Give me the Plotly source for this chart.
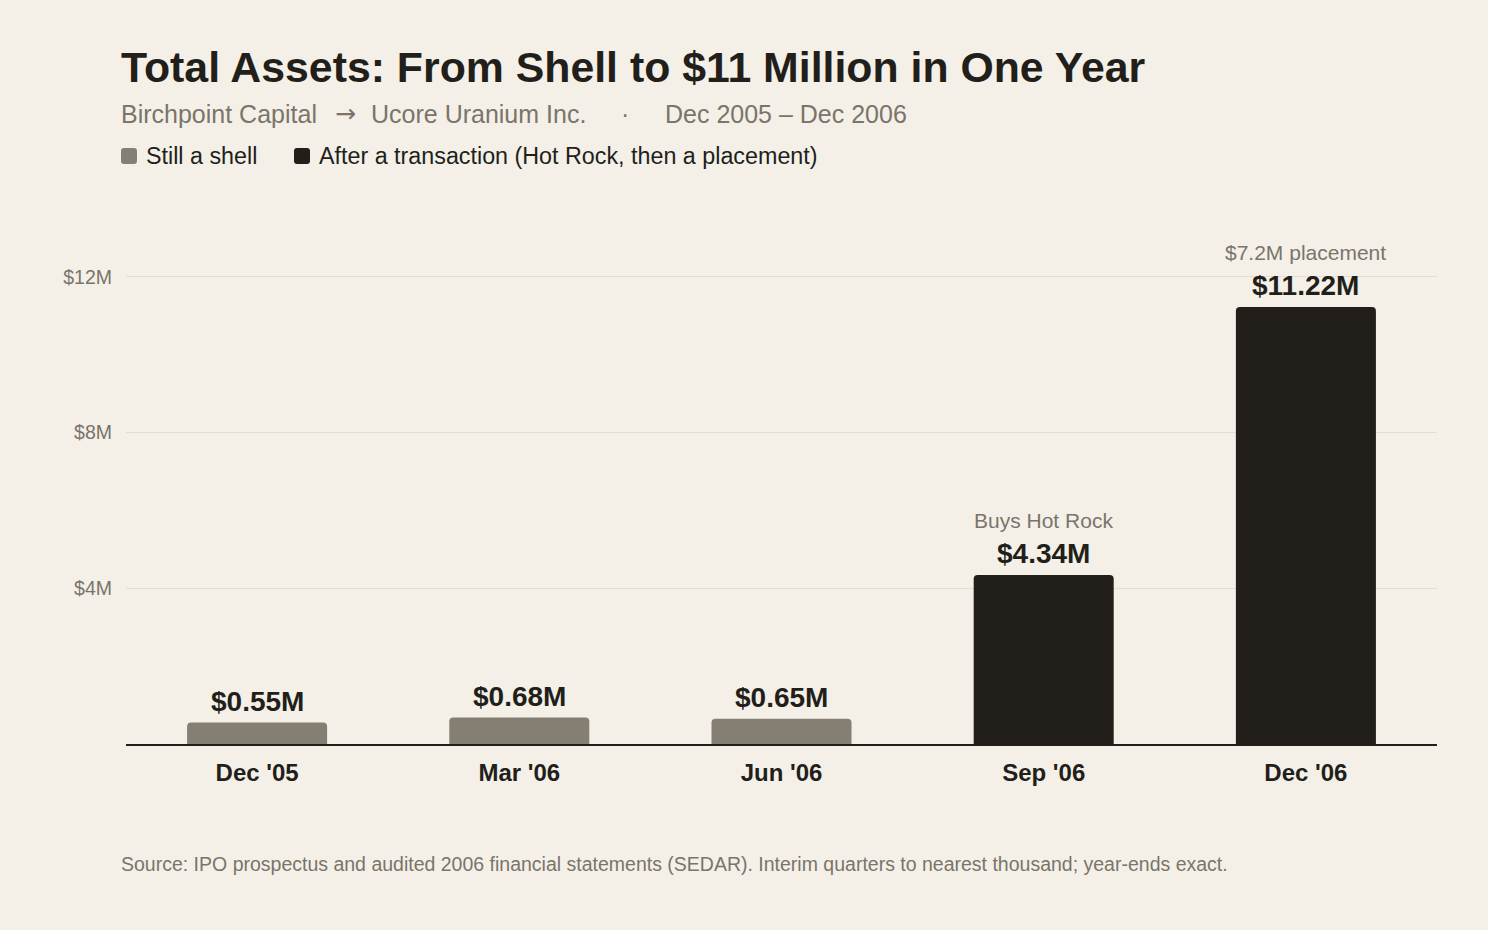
import plotly.graph_objects as go

# ---- data ----
quarters = ["Dec '05", "Mar '06", "Jun '06", "Sep '06", "Dec '06"]
total_assets_m = [0.55, 0.68, 0.65, 4.34, 11.22]
status = ["shell", "shell", "shell", "transaction", "transaction"]
value_labels = ["$0.55M", "$0.68M", "$0.65M", "$4.34M", "$11.22M"]
notes = ["", "", "", "Buys Hot Rock", "$7.2M placement"]
y_tickvals = [4, 8, 12]
y_ticktext = ["$4M", "$8M", "$12M"]

# ---- style ----
BG = "#f4f0e8"
DARK = "#221f1b"
SHELL = "#857f73"
GRAY_TXT = "#7a746a"
GRID = "#e4ded2"
FONT = "Liberation Sans, Arial, Helvetica, sans-serif"

W, H = 1488, 930
ML, MR, MT, MB = 126, 51, 230, 186
PW, PH = W - ML - MR, H - MT - MB


def px_x(px):
    return (px - ML) / PW


def px_y(py):
    return (H - MB - py) / PH


fig = go.Figure()
for key, color, name in [("shell", SHELL, "Still a shell"),
                         ("transaction", DARK, "After a transaction")]:
    xs = [q for q, s in zip(quarters, status) if s == key]
    ys = [v for v, s in zip(total_assets_m, status) if s == key]
    fig.add_trace(go.Bar(x=xs, y=ys, name=name, marker=dict(color=color, cornerradius=4,
                                                             line=dict(width=0)),
                         showlegend=False, hoverinfo="skip"))

annotations = []
for q, v, lab, note in zip(quarters, total_assets_m, value_labels, notes):
    annotations.append(dict(x=q, y=v, xref="x", yref="y", text=f"<b>{lab}</b>",
                            showarrow=False, yanchor="bottom", yshift=4,
                            font=dict(size=28, color=DARK, family=FONT)))
    if note:
        annotations.append(dict(x=q, y=v, xref="x", yref="y", text=note,
                                showarrow=False, yanchor="bottom", yshift=41,
                                font=dict(size=21, color=GRAY_TXT, family=FONT)))

# title
annotations.append(dict(x=px_x(119), y=px_y(67), xref="paper", yref="paper",
                        text="<b>Total Assets: From Shell to $11 Million in One Year</b>",
                        showarrow=False, xanchor="left", yanchor="middle",
                        font=dict(size=42.8, color=DARK, family=FONT)))
# subtitle pieces
sub_pieces = [(119, "left", "Birchpoint Capital", FONT), (345, "center", "→", "DejaVu Sans"),
              (369, "left", "Ucore Uranium Inc.", FONT), (625, "center", "·", FONT),
              (663, "left", "Dec 2005 – Dec 2006", FONT)]
for px, anc, t, fam in sub_pieces:
    annotations.append(dict(x=px_x(px), y=px_y(114), xref="paper", yref="paper", text=t,
                            showarrow=False, xanchor=anc, yanchor="middle",
                            font=dict(size=25, color=GRAY_TXT, family=fam)))


# legend
def rounded_rect_path(x0, y0, x1, y1, r):
    def P(x, y):
        return f"{px_x(x):.6f},{px_y(y):.6f}"
    return (f"M{P(x0 + r, y0)} L{P(x1 - r, y0)} Q{P(x1, y0)} {P(x1, y0 + r)} "
            f"L{P(x1, y1 - r)} Q{P(x1, y1)} {P(x1 - r, y1)} L{P(x0 + r, y1)} "
            f"Q{P(x0, y1)} {P(x0, y1 - r)} L{P(x0, y0 + r)} Q{P(x0, y0)} {P(x0 + r, y0)} Z")


shapes = []
for sx, tx, color, label in [(121, 144, SHELL, "Still a shell"),
                             (294, 317, DARK, "After a transaction (Hot Rock, then a placement)")]:
    shapes.append(dict(type="path", xref="paper", yref="paper",
                       path=rounded_rect_path(sx, 148, sx + 16, 164, 3),
                       fillcolor=color, line=dict(width=0)))
    annotations.append(dict(x=px_x(tx), y=px_y(156), xref="paper", yref="paper", text=label,
                            showarrow=False, xanchor="left", yanchor="middle",
                            font=dict(size=23.3, color=DARK, family=FONT)))
# source
annotations.append(dict(x=px_x(119), y=px_y(864), xref="paper", yref="paper",
                        text="Source: IPO prospectus and audited 2006 financial statements (SEDAR). "
                             "Interim quarters to nearest thousand; year-ends exact.",
                        showarrow=False, xanchor="left", yanchor="middle",
                        font=dict(size=19.5, color=GRAY_TXT, family=FONT)))

fig.update_layout(
    width=W, height=H,
    margin=dict(l=ML, r=MR, t=MT, b=MB, pad=0),
    paper_bgcolor=BG, plot_bgcolor=BG,
    barmode="overlay", bargap=0.466,
    annotations=annotations, shapes=shapes,
    font=dict(family=FONT),
    xaxis=dict(categoryorder="array", categoryarray=quarters,
               showline=True, linecolor=DARK, linewidth=1.5,
               showgrid=False, ticks="", ticklabelstandoff=6,
               tickfont=dict(size=24, color=DARK, family=FONT),
               tickprefix="<b>", ticksuffix="</b>", fixedrange=True),
    yaxis=dict(range=[0, 13.2], tickvals=y_tickvals, ticktext=y_ticktext,
               showgrid=True, gridcolor=GRID, gridwidth=1, zeroline=False,
               showline=False, ticks="", ticklabelstandoff=13,
               tickfont=dict(size=19.5, color=GRAY_TXT, family=FONT), fixedrange=True),
)

fig.write_html("out.html", config={"displayModeBar": False})
